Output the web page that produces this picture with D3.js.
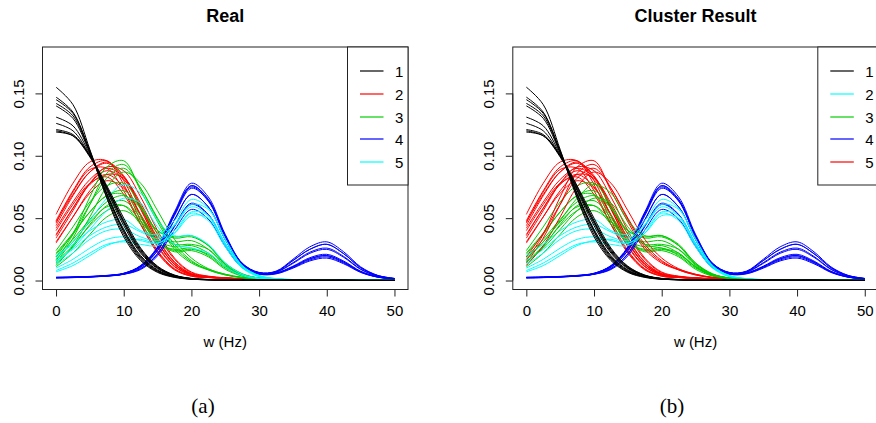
<!DOCTYPE html>
<html>
<head>
<meta charset="utf-8">
<script src="https://cdn.jsdelivr.net/npm/d3@7"></script>
<style>
  body { margin: 0; background: #fff; }
  svg { display: block; font-family: "Liberation Sans", Arial, sans-serif; }
</style>
</head>
<body>
<div id="chart"></div>
<script>
// frequency grid (Hz) for every curve
const freq = [0, 2.5, 5, 7.5, 10, 12.5, 15, 17.5, 20, 22.5, 25, 27.5, 30, 32.5, 35, 37.5, 40, 42.5, 45, 47.5, 50];

// real group 1 (black)
const blackCurves = [
  [.155,.141,.105,.066,.035,.016,.0065,.0025,.0010,.0006,.0004,.0003,.0003,.0002,.0002,.0002,.0002,.0002,.0001,.0001,.0001],
  [.147,.135,.103,.067,.037,.017,.0070,.0028,.0011,.0006,.0004,.0003,.0003,.0002,.0002,.0002,.0002,.0002,.0001,.0001,.0001],
  [.145,.134,.104,.069,.039,.018,.0075,.0030,.0012,.0006,.0004,.0003,.0003,.0002,.0002,.0002,.0002,.0002,.0001,.0001,.0001],
  [.142,.132,.103,.069,.040,.019,.0080,.0031,.0012,.0006,.0004,.0003,.0003,.0002,.0002,.0002,.0002,.0002,.0001,.0001,.0001],
  [.140,.130,.102,.070,.041,.020,.0085,.0033,.0013,.0007,.0004,.0003,.0003,.0002,.0002,.0002,.0002,.0002,.0001,.0001,.0001],
  [.131,.124,.101,.072,.044,.022,.0095,.0037,.0014,.0007,.0004,.0003,.0003,.0002,.0002,.0002,.0002,.0002,.0001,.0001,.0001],
  [.126,.120,.100,.073,.046,.023,.0100,.0039,.0015,.0007,.0005,.0003,.0003,.0002,.0002,.0002,.0002,.0002,.0001,.0001,.0001],
  [.121,.117,.100,.075,.048,.025,.0110,.0042,.0016,.0008,.0005,.0003,.0003,.0002,.0002,.0002,.0002,.0002,.0001,.0001,.0001],
  [.120,.116,.099,.074,.047,.024,.0105,.0040,.0015,.0008,.0005,.0003,.0003,.0002,.0002,.0002,.0002,.0002,.0001,.0001,.0001],
  [.119,.116,.100,.076,.050,.026,.0115,.0044,.0017,.0008,.0005,.0003,.0003,.0002,.0002,.0002,.0002,.0002,.0001,.0001,.0001]
];

// real group 2 (red)
const redCurves = [
  [.053,.078,.095,.096,.077,.048,.024,.0095,.0040,.0025,.0018,.0012,.0008,.0005,.0004,.0003,.0003,.0002,.0002,.0002,.0001],
  [.048,.072,.091,.096,.080,.052,.027,.0110,.0045,.0026,.0018,.0012,.0008,.0005,.0004,.0003,.0003,.0002,.0002,.0002,.0001],
  [.047,.069,.087,.094,.083,.057,.031,.0130,.0050,.0028,.0019,.0012,.0008,.0005,.0004,.0003,.0003,.0002,.0002,.0002,.0001],
  [.046,.071,.089,.090,.072,.045,.022,.0085,.0035,.0024,.0017,.0011,.0007,.0005,.0004,.0003,.0003,.0002,.0002,.0002,.0001],
  [.044,.068,.087,.095,.084,.058,.031,.0130,.0050,.0028,.0019,.0012,.0008,.0005,.0004,.0003,.0003,.0002,.0002,.0002,.0001],
  [.042,.063,.081,.090,.083,.060,.034,.0150,.0055,.0030,.0020,.0013,.0008,.0005,.0004,.0003,.0003,.0002,.0002,.0002,.0001],
  [.037,.058,.078,.088,.081,.059,.033,.0145,.0052,.0029,.0020,.0013,.0008,.0005,.0004,.0003,.0003,.0002,.0002,.0002,.0001],
  [.036,.058,.077,.085,.075,.052,.028,.0115,.0045,.0026,.0018,.0012,.0008,.0005,.0004,.0003,.0003,.0002,.0002,.0002,.0001],
  [.034,.056,.078,.091,.088,.067,.040,.0180,.0068,.0035,.0022,.0014,.0009,.0006,.0004,.0003,.0003,.0002,.0002,.0002,.0001],
  [.031,.051,.070,.080,.074,.053,.030,.0130,.0048,.0027,.0019,.0012,.0008,.0005,.0004,.0003,.0003,.0002,.0002,.0002,.0001],
  [.030,.051,.072,.085,.082,.062,.037,.0170,.0062,.0033,.0021,.0014,.0009,.0006,.0004,.0003,.0003,.0002,.0002,.0002,.0001],
  [.040,.061,.078,.083,.069,.045,.023,.0090,.0035,.0023,.0017,.0011,.0007,.0005,.0004,.0003,.0003,.0002,.0002,.0002,.0001]
];

// real group 3 (green)
const greenCurves = [
  [.024,.043,.063,.076,.078,.060,.040,.035,.036,.028,.013,.0050,.0020,.0010,.0006,.0004,.0003,.0003,.0002,.0002,.0001],
  [.022,.038,.055,.068,.072,.058,.040,.034,.035,.028,.014,.0055,.0020,.0010,.0006,.0004,.0003,.0003,.0002,.0002,.0001],
  [.021,.037,.055,.068,.069,.052,.035,.031,.032,.025,.012,.0045,.0018,.0009,.0006,.0004,.0003,.0003,.0002,.0002,.0001],
  [.019,.033,.049,.063,.068,.058,.038,.029,.029,.025,.013,.0050,.0020,.0010,.0006,.0004,.0003,.0003,.0002,.0002,.0001],
  [.017,.031,.047,.059,.060,.045,.030,.025,.026,.020,.010,.0040,.0015,.0008,.0005,.0004,.0003,.0003,.0002,.0002,.0001],
  [.015,.028,.044,.056,.060,.048,.031,.024,.025,.021,.011,.0045,.0017,.0009,.0005,.0004,.0003,.0003,.0002,.0002,.0001],
  [.013,.027,.045,.060,.064,.050,.031,.023,.024,.019,.009,.0035,.0014,.0008,.0005,.0004,.0003,.0003,.0002,.0002,.0001],
  [.011,.022,.037,.051,.056,.047,.032,.027,.028,.022,.011,.0040,.0015,.0008,.0005,.0004,.0003,.0003,.0002,.0002,.0001],
  [.016,.037,.067,.091,.096,.072,.047,.025,.014,.0085,.0045,.0022,.0012,.0007,.0005,.0004,.0003,.0003,.0002,.0002,.0001],
  [.014,.034,.061,.086,.093,.074,.049,.027,.015,.0090,.0050,.0025,.0013,.0008,.0005,.0004,.0003,.0003,.0002,.0002,.0001],
  [.012,.028,.051,.075,.087,.078,.056,.033,.018,.0095,.0050,.0025,.0013,.0008,.0005,.0004,.0003,.0003,.0002,.0002,.0001],
  [.019,.038,.061,.082,.090,.074,.050,.029,.016,.0085,.0045,.0023,.0012,.0008,.0005,.0004,.0003,.0003,.0002,.0002,.0001]
];

// real group 4 (blue)
const blueCurves = [
  [.0025,.0027,.0032,.0040,.0058,.0120,.0270,.0550,.078,.0670,.0370,.0140,.0065,.0075,.0170,.0270,.031,.0230,.0110,.0042,.0017],
  [.0024,.0026,.0031,.0039,.0056,.0117,.0260,.0540,.076,.0650,.0360,.0136,.0063,.0072,.0160,.0250,.029,.0215,.0103,.0040,.0016],
  [.0026,.0028,.0033,.0041,.0058,.0115,.0260,.0530,.075,.0640,.0356,.0135,.0062,.0068,.0143,.0227,.026,.0193,.0092,.0036,.0015],
  [.0023,.0025,.0030,.0038,.0055,.0114,.0256,.0520,.074,.0636,.0350,.0133,.0060,.0066,.0137,.0218,.025,.0186,.0089,.0035,.0015],
  [.0022,.0024,.0029,.0036,.0052,.0106,.0240,.0487,.069,.0590,.0328,.0124,.0057,.0060,.0115,.0183,.021,.0156,.0075,.0030,.0013],
  [.0024,.0026,.0030,.0037,.0052,.0096,.0215,.0439,.062,.0530,.0295,.0112,.0054,.0058,.0110,.0174,.020,.0148,.0071,.0029,.0013],
  [.0021,.0023,.0028,.0035,.0050,.0094,.0212,.0432,.061,.0526,.0290,.0110,.0052,.0056,.0104,.0165,.019,.0141,.0068,.0028,.0012],
  [.0022,.0024,.0029,.0036,.0050,.0088,.0198,.0404,.057,.0492,.0272,.0103,.0050,.0053,.0099,.0157,.018,.0134,.0065,.0027,.0012],
  [.0023,.0025,.0030,.0038,.0055,.0117,.0260,.0535,.076,.0650,.0360,.0136,.0060,.0060,.0110,.0174,.020,.0148,.0071,.0029,.0013],
  [.0025,.0027,.0031,.0038,.0053,.0106,.0240,.0487,.069,.0590,.0328,.0124,.0060,.0070,.0160,.0250,.029,.0215,.0103,.0040,.0016]
];

// real group 5 (cyan)
const cyanCurves = [
  [.020,.029,.040,.047,.049,.040,.037,.048,.065,.058,.033,.012,.0040,.0015,.0008,.0005,.0004,.0003,.0002,.0002,.0001],
  [.016,.025,.036,.043,.045,.039,.034,.045,.061,.057,.033,.012,.0040,.0015,.0008,.0005,.0004,.0003,.0002,.0002,.0001],
  [.013,.022,.033,.040,.041,.035,.032,.044,.059,.052,.029,.011,.0035,.0013,.0007,.0005,.0004,.0003,.0002,.0002,.0001],
  [.010,.017,.026,.033,.035,.032,.030,.040,.055,.052,.030,.011,.0035,.0013,.0007,.0005,.0004,.0003,.0002,.0002,.0001],
  [.008,.014,.022,.029,.031,.029,.028,.038,.054,.048,.027,.010,.0030,.0012,.0007,.0005,.0004,.0003,.0002,.0002,.0001],
  [.007,.012,.020,.028,.032,.033,.030,.038,.052,.050,.029,.011,.0035,.0013,.0007,.0005,.0004,.0003,.0002,.0002,.0001],
  [.018,.031,.048,.066,.077,.070,.048,.036,.036,.029,.014,.0050,.0020,.0010,.0006,.0004,.0003,.0003,.0002,.0002,.0001],
  [.015,.026,.041,.056,.066,.062,.043,.029,.026,.022,.011,.0040,.0015,.0008,.0005,.0004,.0003,.0003,.0002,.0002,.0001]
];

// cluster label given to each curve in the "Cluster Result" panel
const blackCluster = [1, 1, 1, 1, 1, 1, 1, 1, 1, 1];
const redCluster = [5, 5, 5, 5, 5, 5, 5, 5, 5, 5, 5, 5];
const greenCluster = [3, 3, 3, 3, 3, 3, 3, 3, 5, 5, 5, 5];
const blueCluster = [4, 4, 4, 4, 4, 4, 4, 4, 4, 4];
const cyanCluster = [2, 2, 2, 2, 2, 2, 3, 3];

const legendLabels = ['1', '2', '3', '4', '5'];
const realColors = ['#000000', '#FF0000', '#00CD00', '#0000FF', '#00FFFF'];
const resultColors = ['#000000', '#00FFFF', '#00CD00', '#0000FF', '#FF0000'];
const xTicks = [0, 10, 20, 30, 40, 50];
const yTicks = [0, 0.05, 0.10, 0.15];

// drawing order: red, green, blue, cyan, black
const groups = [
    { real: 2, curves: redCurves, cluster: redCluster },
    { real: 3, curves: greenCurves, cluster: greenCluster },
    { real: 4, curves: blueCurves, cluster: blueCluster },
    { real: 5, curves: cyanCurves, cluster: cyanCluster },
    { real: 1, curves: blackCurves, cluster: blackCluster }
];
const allCurves = [];
groups.forEach(g => g.curves.forEach((vals, i) => {
    allCurves.push({ values: vals, real: g.real, cluster: g.cluster[i] });
}));

const width = 876, height = 423;
const svg = d3.select('#chart').append('svg')
    .attr('width', width)
    .attr('height', height);
svg.append('rect').attr('width', width).attr('height', height).attr('fill', '#fff');

function drawPanel(left, title, colorOf, legendColors, caption, captionX) {
    const plotW = 365.5, top = 47, bottom = 289.5;
    const x = d3.scaleLinear().domain([-2, 52]).range([left, left + plotW]);
    const y = d3.scaleLinear().domain([-0.0072, 0.1872]).range([bottom, top]);
    const g = svg.append('g');

    const line = d3.line()
        .x((d, i) => x(freq[i]))
        .y(d => y(d))
        .curve(d3.curveCatmullRom.alpha(0.5));

    g.selectAll('.curve')
        .data(allCurves)
        .enter()
        .append('path')
        .attr('class', 'curve')
        .attr('d', d => line(d.values))
        .attr('fill', 'none')
        .attr('stroke', d => colorOf(d))
        .attr('stroke-width', 1);

    // plot box
    g.append('rect')
        .attr('x', left).attr('y', top)
        .attr('width', plotW).attr('height', bottom - top)
        .attr('fill', 'none').attr('stroke', '#222').attr('stroke-width', 1);

    // x axis
    const xAxis = g.append('g')
        .attr('transform', `translate(0,${bottom})`)
        .call(d3.axisBottom(x).tickValues(xTicks).tickSize(7).tickSizeOuter(0).tickPadding(9));
    xAxis.select('.domain').remove();
    xAxis.append('line')
        .attr('x1', x(xTicks[0])).attr('x2', x(xTicks[xTicks.length - 1]))
        .attr('stroke', '#222');
    xAxis.selectAll('line').attr('stroke', '#222');
    xAxis.selectAll('text')
        .style('font-size', '15px')
        .style('font-family', '"Liberation Sans", Arial, sans-serif')
        .attr('fill', '#000');

    // y axis
    const yAxis = g.append('g')
        .attr('transform', `translate(${left},0)`)
        .call(d3.axisLeft(y).tickValues(yTicks).tickSize(7).tickSizeOuter(0).tickFormat(d3.format('.2f')));
    yAxis.select('.domain').remove();
    yAxis.append('line')
        .attr('y1', y(yTicks[0])).attr('y2', y(yTicks[yTicks.length - 1]))
        .attr('stroke', '#222');
    yAxis.selectAll('line').attr('stroke', '#222');
    yAxis.selectAll('text')
        .attr('x', null).attr('dy', null)
        .attr('transform', 'translate(-18.5,0) rotate(-90)')
        .attr('text-anchor', 'middle')
        .style('font-size', '15px')
        .style('font-family', '"Liberation Sans", Arial, sans-serif')
        .attr('fill', '#000');

    // title and axis label
    g.append('text')
        .attr('x', left + plotW / 2).attr('y', 22)
        .attr('text-anchor', 'middle')
        .style('font-size', '18px').style('font-weight', 'bold')
        .text(title);
    g.append('text')
        .attr('x', left + plotW / 2).attr('y', 347)
        .attr('text-anchor', 'middle')
        .style('font-size', '15px')
        .text('w (Hz)');

    // legend (top right)
    const lg = g.append('g');
    lg.append('rect')
        .attr('x', left + plotW - 60.5).attr('y', top)
        .attr('width', 60.5).attr('height', 138)
        .attr('fill', '#fff').attr('stroke', '#222');
    legendLabels.forEach((lab, i) => {
        const ly = Math.round(71 + i * 22.75);
        lg.append('line')
            .attr('x1', left + plotW - 48).attr('x2', left + plotW - 24.5)
            .attr('y1', ly).attr('y2', ly)
            .attr('stroke', legendColors[i]).attr('stroke-width', 1.2);
        lg.append('text')
            .attr('x', left + plotW - 13).attr('y', ly + 5.5)
            .style('font-size', '15px')
            .text(lab);
    });

    // sub-figure caption
    svg.append('text')
        .attr('x', captionX).attr('y', 413)
        .attr('text-anchor', 'middle')
        .style('font-family', '"Liberation Serif", "DejaVu Serif", serif')
        .style('font-size', '21px')
        .text(caption);
}

drawPanel(42.5, 'Real', d => realColors[d.real - 1], realColors, '(a)', 203);
drawPanel(512.8, 'Cluster Result', d => resultColors[d.cluster - 1], resultColors, '(b)', 672);
</script>
</body>
</html>
